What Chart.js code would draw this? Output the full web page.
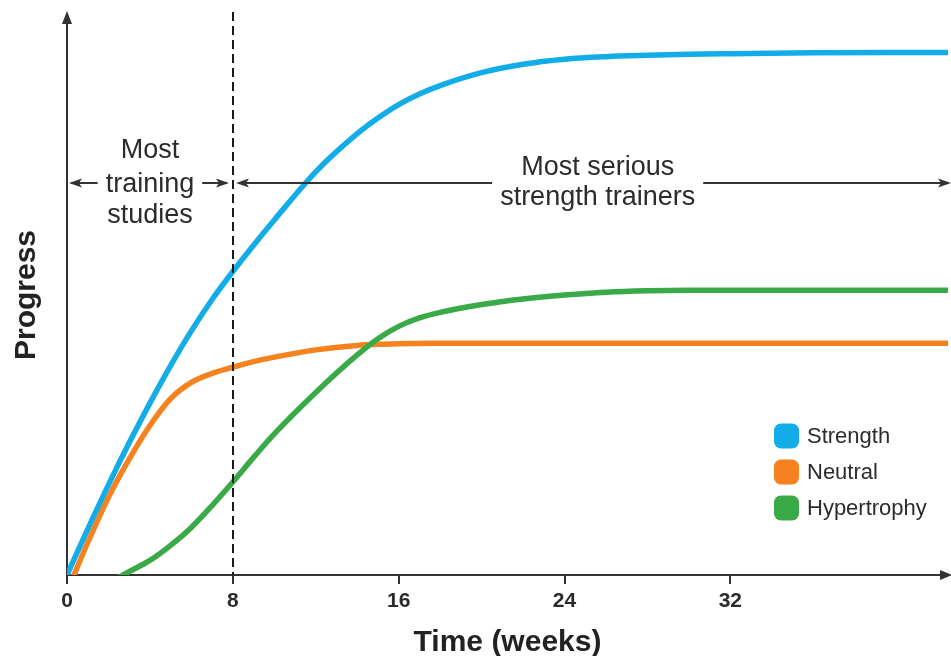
<!DOCTYPE html>
<html><head><meta charset="utf-8">
<script src="https://cdn.jsdelivr.net/npm/chart.js@4/dist/chart.umd.min.js"></script>
<style>html,body{margin:0;padding:0;background:#fff}#wrap{width:951px;height:656px;position:relative}</style>
</head><body><div id="wrap"><canvas id="c"></canvas></div>
<script>
// Data (y is "progress" on an arbitrary 0-100 scale)
const weeks       = [0, 1, 2, 3, 4, 5, 6, 7, 8, 9, 10, 12, 14, 15, 16, 17, 18, 20, 22, 24, 26, 28, 30, 32, 36, 40, 42.5];
const strength    = [0, 8.2, 16.1, 23.6, 30.7, 37.4, 43.6, 49.2, 54.2, 58.9, 63.4, 72.0, 78.8, 81.6, 84.0, 85.9, 87.4, 89.7, 91.2, 92.1, 92.55, 92.8, 93.0, 93.1, 93.25, 93.3, 93.3];
const neutral     = [-3.0, 5.8, 13.9, 20.7, 26.7, 31.5, 34.4, 36.0, 37.1, 38.1, 38.9, 40.2, 41.0, 41.2, 41.3, 41.35, 41.4, 41.4, 41.4, 41.4, 41.4, 41.4, 41.4, 41.4, 41.4, 41.4, 41.4];
const hypertrophy = [null, null, -1.4, 0.6, 2.6, 5.3, 8.5, 12.4, 16.6, 21.0, 25.2, 32.6, 39.3, 42.2, 44.4, 45.9, 46.9, 48.3, 49.3, 50.0, 50.5, 50.75, 50.85, 50.85, 50.85, 50.85, 50.85];
const seriesNames = ['Strength', 'Neutral', 'Hypertrophy'];
const xTickValues = [0, 8, 16, 24, 32];
const xLabel = 'Time (weeks)';
const yLabel = 'Progress';
const studiesText = ['Most', 'training', 'studies'];
const trainersText = ['Most serious', 'strength trainers'];
const studiesEndWeek = 8;

const COLORS = ['#12ade9', '#f5821f', '#3aa947'];
const INK = '#2b2b2b';
const FONT = '"Liberation Sans", Arial, Helvetica, sans-serif';

function arrowHead(ctx, x, y, dir, len, half) {
  ctx.beginPath();
  ctx.moveTo(x, y);
  ctx.lineTo(x - dir * len, y - half);
  ctx.lineTo(x - dir * (len - 3), y);
  ctx.lineTo(x - dir * len, y + half);
  ctx.closePath();
  ctx.fill();
}

const annot = {
  id: 'annot',
  afterDatasetsDraw(chart) {
    const {ctx, chartArea: a, scales: {x, y}} = chart;
    ctx.save();
    ctx.strokeStyle = '#333';
    ctx.fillStyle = '#333';
    // axis arrows
    ctx.beginPath();
    ctx.moveTo(a.left, 11); ctx.lineTo(a.left - 5, 24); ctx.lineTo(a.left + 5, 24); ctx.closePath(); ctx.fill();
    ctx.beginPath();
    ctx.moveTo(a.right + 4, a.bottom); ctx.lineTo(a.right - 8, a.bottom - 5); ctx.lineTo(a.right - 8, a.bottom + 5); ctx.closePath(); ctx.fill();
    ctx.lineWidth = 2;
    ctx.beginPath(); ctx.moveTo(a.left, 20); ctx.lineTo(a.left, a.top); ctx.stroke();

    // dashed line at end of "most training studies"
    const xd = Math.round(x.getPixelForValue(studiesEndWeek));
    ctx.strokeStyle = '#1a1a1a';
    ctx.setLineDash([9, 5]);
    ctx.beginPath(); ctx.moveTo(xd, 12); ctx.lineTo(xd, a.bottom); ctx.stroke();
    ctx.setLineDash([]);

    // horizontal range arrows
    const ya = Math.round(y.getPixelForValue(70));
    ctx.font = '27px ' + FONT;
    ctx.fillStyle = INK;
    ctx.textAlign = 'center';
    ctx.textBaseline = 'alphabetic';
    const cx1 = x.getPixelForValue(studiesEndWeek / 2);
    const w1 = ctx.measureText(studiesText[1]).width;
    ctx.fillText(studiesText[0], cx1, ya - 25);
    ctx.fillText(studiesText[1], cx1, ya + 9);
    ctx.fillText(studiesText[2], cx1, ya + 40);
    const cx2 = x.getPixelForValue(25.6);
    const w2 = ctx.measureText(trainersText[1]).width;
    ctx.fillText(trainersText[0], cx2, ya - 8);
    ctx.fillText(trainersText[1], cx2, ya + 22);

    ctx.strokeStyle = '#333'; ctx.fillStyle = '#333'; ctx.lineWidth = 2;
    const g = 8;
    const segs = [
      [a.left + 4, cx1 - w1 / 2 - g],
      [cx1 + w1 / 2 + g, xd - 6],
      [xd + 6, cx2 - w2 / 2 - g],
      [cx2 + w2 / 2 + g, a.right]
    ];
    segs.forEach(s => { ctx.beginPath(); ctx.moveTo(s[0], ya); ctx.lineTo(s[1], ya); ctx.stroke(); });
    arrowHead(ctx, a.left + 2, ya, -1, 13, 4.5);
    arrowHead(ctx, xd - 4, ya, 1, 13, 4.5);
    arrowHead(ctx, xd + 3, ya, -1, 13, 4.5);
    arrowHead(ctx, a.right + 3, ya, 1, 13, 4.5);

    // legend
    const lx = a.right - 174, ly0 = a.bottom - 139, step = 36;
    ctx.font = '22px ' + FONT;
    ctx.textAlign = 'left';
    ctx.textBaseline = 'middle';
    chart.data.datasets.slice().sort((p, q) => p.legendIndex - q.legendIndex).forEach((ds, i) => {
      const cy = ly0 + i * step;
      ctx.fillStyle = ds.borderColor;
      ctx.beginPath();
      ctx.roundRect(lx, cy - 12.5, 25, 25, 7);
      ctx.fill();
      ctx.fillStyle = INK;
      ctx.fillText(ds.label, lx + 33, cy + 1);
    });
    ctx.restore();
  }
};

const series = [strength, neutral, hypertrophy];
const drawOrder = [1, 3, 2];
const datasets = series.map((vals, i) => ({
  label: seriesNames[i],
  legendIndex: i,
  order: drawOrder[i],
  data: weeks.map((w, k) => ({x: w, y: vals[k]})),
  borderColor: COLORS[i],
  backgroundColor: COLORS[i],
  borderWidth: 5.5,
  pointRadius: 0,
  cubicInterpolationMode: 'monotone',
  fill: false,
  spanGaps: false
}));

new Chart(document.getElementById('c'), {
  type: 'line',
  data: {datasets},
  options: {
    responsive: true,
    maintainAspectRatio: false,
    animation: false,
    layout: {padding: {top: 15, right: 3, left: 0, bottom: 0}},
    plugins: {legend: {display: false}, tooltip: {enabled: false}},
    scales: {
      x: {
        type: 'linear', min: 0, max: 42.5,
        afterBuildTicks: s => { s.ticks = xTickValues.map(v => ({value: v})); },
        afterFit: s => { s.height = 81; },
        grid: {display: true, drawOnChartArea: false, drawTicks: true, tickLength: 9, color: '#333', lineWidth: 2},
        border: {display: true, color: '#333', width: 2},
        ticks: {color: INK, font: {family: FONT, size: 21, weight: 'bold'}, padding: 5, maxRotation: 0},
        title: {display: true, text: xLabel, color: '#222', font: {family: FONT, size: 30, weight: 'bold', lineHeight: 1}, padding: {top: 0, bottom: -2}}
      },
      y: {
        min: 0, max: 100,
        afterFit: s => { s.width = 67; },
        grid: {display: false},
        border: {display: true, color: '#333', width: 2},
        ticks: {display: false},
        title: {display: true, text: yLabel, color: '#222', font: {family: FONT, size: 30, weight: 'bold', lineHeight: 1}, padding: {top: 12, bottom: 0}}
      }
    }
  },
  plugins: [annot]
});
</script>
</body></html>
